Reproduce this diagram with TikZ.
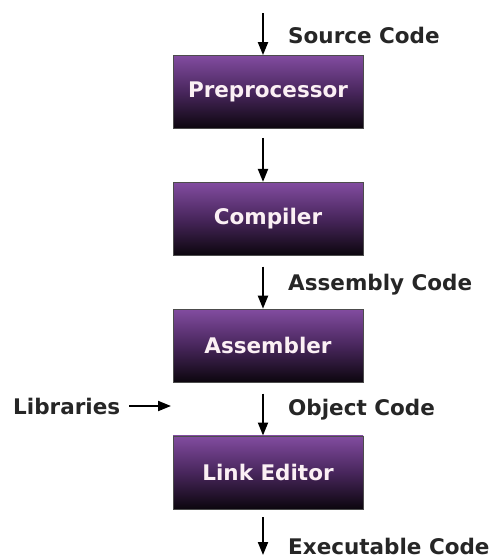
\documentclass[tikz,border=0pt]{standalone}
\usepackage{fontspec}
\setmainfont{DejaVu Sans}
\usetikzlibrary{positioning,arrows.meta}
\definecolor{boxtop}{RGB}{130,76,160}
\definecolor{boxmid}{RGB}{72,38,92}
\definecolor{boxbot}{RGB}{12,6,14}

\begin{document}
\begin{tikzpicture}[
    x=1pt, y=-1pt,
    node distance=53pt,  % gap between the stages
    stage/.style = {draw=black!70, line width=0.8pt, minimum width=190pt, minimum height=73pt,
      top color=boxtop, bottom color=boxbot, middle color=boxmid,
      text=white!94!purple, font=\bfseries\fontsize{21.5}{25}\selectfont},
    lbl/.style = {inner sep=0pt, text=black!85, font=\bfseries\fontsize{21.5}{25}\selectfont},
    flow/.style = {-{Triangle[length=13pt,width=10pt]}, line width=2pt}
  ]
    \useasboundingbox (0,0) rectangle (494,560);

    \node[stage] (pre) at (268,92) {Preprocessor};
    \node[stage] (comp) [below=of pre] {Compiler};
    \node[stage] (asm) [below=of comp] {Assembler};
    \node[stage] (link) [below=of asm] {Link Editor};

    \coordinate (src) at (263,13);          % code comes in from the top
    \coordinate (exe) at (263,555);
    \node[lbl, anchor=west] (srclbl) at (288,35) {Source Code};
    \node[lbl, anchor=west] (asmlbl) at (288,285) {Assembly Code};
    \node[lbl, anchor=west] (objlbl) at (288,410) {Object Code};
    \node[lbl, anchor=west] (exelbl) at (288,546) {Executable Code};
    \node[lbl, anchor=west] (lib) at (13,406) {Libraries};
    \coordinate (libend) at (171,406);

    \draw[flow] (src) -- (src |- pre.north);
    \draw[flow, shorten <=9pt] (pre.south -| src) -- (src |- comp.north);
    \draw[flow, shorten <=11pt] (comp.south -| src) -- (src |- asm.north);
    \draw[flow, shorten <=11pt] (asm.south -| src) -- (src |- link.north);
    \draw[flow, shorten <=8pt] (link.south -| src) -- (exe);
    \draw[flow, shorten <=9pt] (lib) -- (libend);

  \end{tikzpicture}
\end{document}
